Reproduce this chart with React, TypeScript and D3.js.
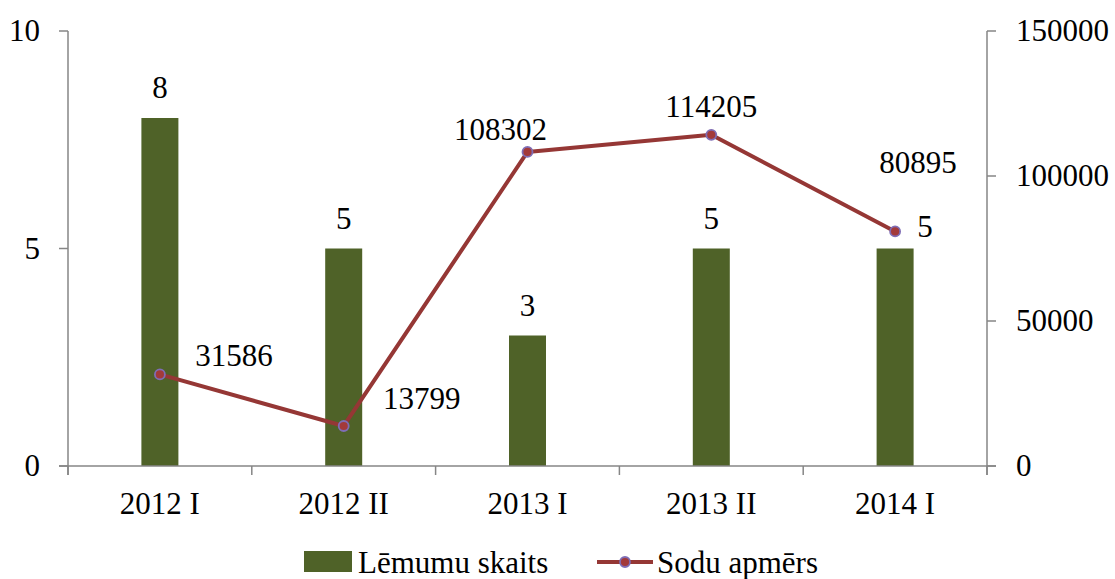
import React from "react";
import * as d3 from "d3";

const categories = ["2012 I", "2012 II", "2013 I", "2013 II", "2014 I"];
const decisions = [8, 5, 3, 5, 5];
const fines = [31586, 13799, 108302, 114205, 80895];
const leftTicks = [0, 5, 10];
const rightTicks = [0, 50000, 100000, 150000];
const seriesNames = ["Lēmumu skaits", "Sodu apmērs"];

// label placement offsets (layout only)
const fineLabelOffsets = [
  [74, -8],
  [78, -17],
  [-27, -12],
  [0, -18],
  [23, -58],
];
const barLabelOffsets = [
  [0, 0],
  [0, 0],
  [0, 0],
  [0, 0],
  [30, 8],
];

const W = 1115;
const H = 579;
const M = { left: 68, right: 987, top: 31, bottom: 466 };
const FONT = "Liberation Serif";
const FS = 31;
const AXIS = "#868686";
const BAR = "#4F6228";
const LINE = "#953735";
const MARK_FILL = "#A33A3A";
const MARK_STROKE = "#7F6DB5";

const T = (props: any) => (
  <text fontSize={FS} fill="#000" {...props} style={{ fontFamily: FONT }} />
);

export default function App() {
  const x = d3.scaleBand<string>().domain(categories).range([M.left, M.right]).padding(0);
  const yL = d3.scaleLinear().domain([0, 10]).range([M.bottom, M.top]);
  const yR = d3.scaleLinear().domain([0, 150000]).range([M.bottom, M.top]);
  const bw = 37;
  const cx = (c: string) => (x(c) as number) + x.bandwidth() / 2;
  const line = d3
    .line<number>()
    .x((_, i) => cx(categories[i]))
    .y((d) => yR(d));

  const boundaries = categories.map((c) => x(c) as number).concat([M.right]);

  return (
    <svg width={W} height={H} style={{ position: "absolute", left: 0, top: 0, fontFamily: FONT }}>
      <rect width={W} height={H} fill="#fff" />
      {decisions.map((d, i) => (
        <rect
          key={"b" + i}
          x={cx(categories[i]) - bw / 2}
          y={yL(d)}
          width={bw}
          height={yL(0) - yL(d)}
          fill={BAR}
        />
      ))}
      <line x1={M.left} x2={M.left} y1={M.top} y2={M.bottom + 9} stroke={AXIS} strokeWidth={1.5} />
      <line x1={M.right} x2={M.right} y1={M.top} y2={M.bottom + 9} stroke={AXIS} strokeWidth={1.5} />
      <line x1={M.left - 9} x2={M.right + 9} y1={M.bottom} y2={M.bottom} stroke={AXIS} strokeWidth={1.5} />
      {leftTicks.map((t) => (
        <g key={"lt" + t}>
          <line x1={M.left - 9} x2={M.left} y1={yL(t)} y2={yL(t)} stroke={AXIS} strokeWidth={1.5} />
          <T x={40} y={yL(t) + 10} textAnchor="end">
            {t}
          </T>
        </g>
      ))}
      {rightTicks.map((t) => (
        <g key={"rt" + t}>
          <line x1={M.right} x2={M.right + 9} y1={yR(t)} y2={yR(t)} stroke={AXIS} strokeWidth={1.5} />
          <T x={1016} y={yR(t) + 10} textAnchor="start">
            {t}
          </T>
        </g>
      ))}
      {boundaries.map((b, i) => (
        <line key={"ct" + i} x1={b} x2={b} y1={M.bottom} y2={M.bottom + 9} stroke={AXIS} strokeWidth={1.5} />
      ))}
      {categories.map((c) => (
        <T key={"cl" + c} x={cx(c)} y={514} textAnchor="middle">
          {c}
        </T>
      ))}
      <path d={line(fines) || ""} fill="none" stroke={LINE} strokeWidth={4} strokeLinejoin="round" />
      {fines.map((f, i) => (
        <circle
          key={"m" + i}
          cx={cx(categories[i])}
          cy={yR(f)}
          r={5}
          fill={MARK_FILL}
          stroke={MARK_STROKE}
          strokeWidth={1.8}
        />
      ))}
      {decisions.map((d, i) => (
        <T
          key={"bl" + i}
          x={cx(categories[i]) + barLabelOffsets[i][0]}
          y={yL(d) - 20 + barLabelOffsets[i][1]}
          textAnchor="middle"
        >
          {d}
        </T>
      ))}
      {fines.map((f, i) => (
        <T
          key={"fl" + i}
          x={cx(categories[i]) + fineLabelOffsets[i][0]}
          y={yR(f) + fineLabelOffsets[i][1]}
          textAnchor="middle"
        >
          {f}
        </T>
      ))}
      <rect x={304} y={551} width={48} height={21} fill={BAR} />
      <T x={358} y={573}>
        {seriesNames[0]}
      </T>
      <line x1={597} x2={653} y1={562} y2={562} stroke={LINE} strokeWidth={4} />
      <circle cx={625} cy={562} r={5} fill={MARK_FILL} stroke={MARK_STROKE} strokeWidth={1.8} />
      <T x={657} y={573}>
        {seriesNames[1]}
      </T>
    </svg>
  );
}
